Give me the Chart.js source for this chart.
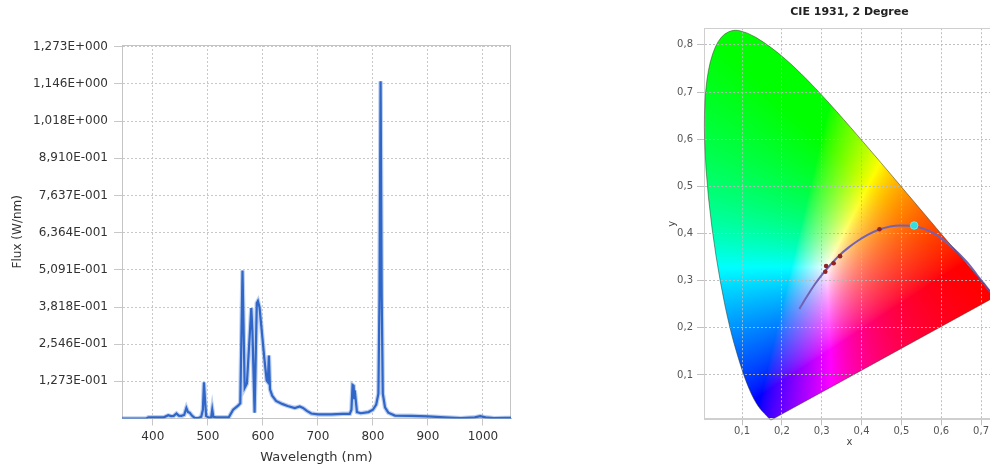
<!DOCTYPE html>
<html>
<head>
<meta charset="utf-8">
<script src="https://cdn.jsdelivr.net/npm/chart.js@4.4.1/dist/chart.umd.min.js"></script>
<style>
  html, body { margin: 0; padding: 0; background: #fff; overflow: hidden; }
  body { width: 990px; height: 468px; position: relative; }
  #spectrumChart { position: absolute; left: 0; top: 0; }
  #cieChart { position: absolute; left: 640px; top: 0; }
</style>
</head>
<body>
<canvas id="spectrumChart" width="560" height="468"></canvas>
<canvas id="cieChart" width="370" height="468"></canvas>
<script>
// Emission spectrum
const wavelengths = [344, 388, 392, 420, 428, 433, 438, 443, 447, 452, 457, 461, 464, 467, 471, 476, 482, 488, 491, 493,
  495, 497, 502, 506, 508, 510, 515, 538, 546, 555, 559, 563, 567, 571, 579, 581, 585, 589, 591, 594,
  599, 603, 607, 609, 611, 613, 617, 624, 635, 645, 658, 667, 673, 680, 688, 700, 725, 745, 758, 761,
  763, 765, 766, 767, 769, 771, 778, 792, 800, 806, 810, 812, 814, 816, 818, 822, 828, 840, 870, 900,
  930, 960, 985, 995, 1005, 1020, 1040, 1051];
const flux = [0.000, 0.000, 0.004, 0.004, 0.011, 0.008, 0.009, 0.017, 0.010, 0.009, 0.012, 0.036, 0.022, 0.020, 0.010, 0.002, 0.001, 0.006, 0.030, 0.124,
  0.060, 0.008, 0.003, 0.004, 0.031, 0.006, 0.004, 0.004, 0.030, 0.044, 0.052, 0.507, 0.105, 0.120, 0.378, 0.300, 0.020, 0.395, 0.402, 0.380,
  0.280, 0.200, 0.130, 0.125, 0.216, 0.100, 0.078, 0.060, 0.050, 0.043, 0.036, 0.041, 0.036, 0.026, 0.017, 0.014, 0.014, 0.016, 0.016, 0.030,
  0.115, 0.112, 0.070, 0.096, 0.060, 0.022, 0.018, 0.022, 0.030, 0.048, 0.085, 0.420, 1.155, 0.420, 0.085, 0.038, 0.020, 0.010, 0.009, 0.007,
  0.004, 0.001, 0.004, 0.008, 0.004, 0.001, 0.002, 0.002];
const fluxTicks = [0.1273, 0.2546, 0.3818, 0.5091, 0.6364, 0.7637, 0.8910, 1.018, 1.146, 1.273];
const wavelengthTicks = [400, 500, 600, 700, 800, 900, 1000];

// CIE 1931 2° spectral locus, 380–700 nm
const locusX = [0.1741, 0.1740, 0.1738, 0.1736, 0.1733, 0.1730, 0.1726, 0.1721, 0.1714, 0.1703, 0.1689, 0.1669, 0.1644, 0.1611,
  0.1566, 0.1510, 0.1440, 0.1355, 0.1241, 0.1096, 0.0913, 0.0687, 0.0454, 0.0235, 0.0082, 0.0039, 0.0139, 0.0389,
  0.0743, 0.1142, 0.1547, 0.1929, 0.2296, 0.2658, 0.3016, 0.3373, 0.3731, 0.4087, 0.4441, 0.4788, 0.5125, 0.5448,
  0.5752, 0.6029, 0.6270, 0.6482, 0.6658, 0.6801, 0.6915, 0.7006, 0.7079, 0.7140, 0.7190, 0.7230, 0.7260, 0.7283,
  0.7300, 0.7311, 0.7320, 0.7334, 0.7347];
const locusY = [0.0050, 0.0050, 0.0049, 0.0049, 0.0048, 0.0048, 0.0048, 0.0048, 0.0051, 0.0058, 0.0069, 0.0086, 0.0109, 0.0138,
  0.0177, 0.0227, 0.0297, 0.0399, 0.0578, 0.0868, 0.1327, 0.2007, 0.2950, 0.4127, 0.5384, 0.6548, 0.7502, 0.8120,
  0.8338, 0.8262, 0.8059, 0.7816, 0.7543, 0.7243, 0.6923, 0.6589, 0.6245, 0.5896, 0.5547, 0.5202, 0.4866, 0.4544,
  0.4242, 0.3965, 0.3725, 0.3514, 0.3340, 0.3197, 0.3083, 0.2993, 0.2920, 0.2859, 0.2809, 0.2770, 0.2740, 0.2717,
  0.2700, 0.2689, 0.2680, 0.2666, 0.2653];

// Planckian locus, standard illuminants and the measured source
const planckX = [0.244, 0.258, 0.270, 0.284, 0.300, 0.318, 0.346, 0.367, 0.388, 0.415, 0.443, 0.472, 0.497, 0.531,
  0.553, 0.573, 0.590, 0.606, 0.632, 0.656, 0.674, 0.690, 0.707, 0.723, 0.735];
const planckY = [0.240, 0.260, 0.276, 0.294, 0.312, 0.330, 0.355, 0.370, 0.383, 0.397, 0.408, 0.415, 0.417, 0.416,
  0.411, 0.404, 0.396, 0.386, 0.367, 0.347, 0.330, 0.312, 0.294, 0.277, 0.265];
const illuminantX = [0.309, 0.311, 0.330, 0.346, 0.445];
const illuminantY = [0.319, 0.331, 0.337, 0.352, 0.409];
const sourceX = [0.532];
const sourceY = [0.417];
const cieTicksX = [0.1, 0.2, 0.3, 0.4, 0.5, 0.6, 0.7];
const cieTicksY = [0.1, 0.2, 0.3, 0.4, 0.5, 0.6, 0.7, 0.8];

const FONT = "'DejaVu Sans', Verdana, sans-serif";
const toPoints = (xs, ys) => xs.map((x, i) => ({ x: x, y: ys[i] }));

// 1,273E+000 style labels
function sciLabel(v) {
    const parts = v.toExponential(3).split('e');
    const exp = parseInt(parts[1], 10);
    return parts[0].replace('.', ',') + 'E' + (exp < 0 ? '-' : '+') + String(Math.abs(exp)).padStart(3, '0');
}

// light frame round the plot area
const frame = {
    id: 'frame',
    beforeDatasetsDraw(chart, args, opts) {
        const a = chart.chartArea, ctx = chart.ctx;
        ctx.save();
        ctx.strokeStyle = opts.color;
        ctx.lineWidth = 1;
        ctx.strokeRect(Math.round(a.left) + 0.5, Math.round(a.top) + 0.5,
            Math.round(a.right - a.left) - 1, Math.round(a.bottom - a.top) - 1);
        ctx.restore();
    }
};

// xy chromaticity -> display colour (clip, normalise to brightest channel)
function xyToRgb(x, y) {
    const X = x / y, Z = (1 - x - y) / y;
    const c = [
        3.2406 * X - 1.5372 - 0.4986 * Z,
        -0.9689 * X + 1.8758 + 0.0415 * Z,
        0.0557 * X - 0.2040 + 1.0570 * Z
    ].map(v => Math.max(v, 0));
    const m = Math.max(c[0], c[1], c[2]) || 1;
    // blue a little weaker so the green/teal side stays green
    const b = Math.pow(c[2] / m, 1.4);
    return [c[0] / m, c[1] / m, b].map(v => Math.round(Math.pow(v, 0.7) * 255));
}

// smoothed outline of the horseshoe
function locusPath(ctx, sx, sy) {
    const pts = locusX.map((vx, i) => [sx.getPixelForValue(vx), sy.getPixelForValue(locusY[i])]);
    const n = pts.length;
    const mid = (a, b) => [(a[0] + b[0]) / 2, (a[1] + b[1]) / 2];
    ctx.beginPath();
    ctx.moveTo(pts[0][0], pts[0][1]);
    for (let i = 1; i < n - 1; i++) {
        const m = mid(pts[i], pts[i + 1]);
        ctx.quadraticCurveTo(pts[i][0], pts[i][1], m[0], m[1]);
    }
    ctx.lineTo(pts[n - 1][0], pts[n - 1][1]);
    ctx.closePath();
}

// paint the gamut inside the spectral locus
const cieFill = {
    id: 'cieFill',
    beforeDraw(chart) {
        const { ctx, chartArea: a, scales } = chart;
        const w = Math.ceil(a.right - a.left), h = Math.ceil(a.bottom - a.top);
        const off = document.createElement('canvas');
        off.width = w;
        off.height = h;
        const octx = off.getContext('2d');
        const img = octx.createImageData(w, h);
        for (let j = 0; j < h; j++) {
            const cy = scales.y.getValueForPixel(a.top + j + 0.5);
            for (let i = 0; i < w; i++) {
                const cx = scales.x.getValueForPixel(a.left + i + 0.5);
                const rgb = xyToRgb(cx, Math.max(cy, 0.001));
                const k = (j * w + i) * 4;
                img.data[k] = rgb[0];
                img.data[k + 1] = rgb[1];
                img.data[k + 2] = rgb[2];
                img.data[k + 3] = 255;
            }
        }
        octx.putImageData(img, 0, 0);
        ctx.save();
        locusPath(ctx, scales.x, scales.y);
        ctx.clip();
        ctx.drawImage(off, a.left, a.top);
        ctx.restore();
    },
    afterDatasetsDraw(chart) {
        const { ctx, scales } = chart;
        ctx.save();
        locusPath(ctx, scales.x, scales.y);
        ctx.strokeStyle = 'rgba(50,50,30,0.5)';
        ctx.lineWidth = 1;
        ctx.stroke();
        ctx.restore();
    }
};

// Line chart: flux over wavelength
const spectrumCtx = document.getElementById('spectrumChart').getContext('2d');
const spectrumChart = new Chart(spectrumCtx, {
    type: 'line',
    data: {
        datasets: [{
            label: 'Flux',
            data: toPoints(wavelengths, flux),
            borderColor: '#2f66c8',
            borderWidth: 2.2,
            pointRadius: 0,
            tension: 0,
            order: 1
        }, {
            label: 'halo',
            data: toPoints(wavelengths, flux),
            borderColor: 'rgba(110,150,220,0.45)',
            borderWidth: 4.5,
            pointRadius: 0,
            tension: 0,
            order: 2
        }]
    },
    options: {
        responsive: false,
        animation: false,
        layout: { padding: { top: 45, right: 49, bottom: 0, left: 0 } },
        plugins: {
            legend: { display: false },
            tooltip: { enabled: false },
            frame: { color: '#c4c4c4' }
        },
        scales: {
            x: {
                type: 'linear',
                min: 344,
                max: 1051,
                afterBuildTicks: (scale) => { scale.ticks = wavelengthTicks.map(v => ({ value: v })); },
                afterFit: (scale) => { scale.height = 49.5; },
                grid: { color: '#c8c8c8', tickLength: 7 },
                border: { color: '#bdbdbd', dash: [2, 2] },
                ticks: { font: { family: FONT, size: 12 }, color: '#333', padding: 4, maxRotation: 0, callback: (v) => String(v) },
                title: { display: true, text: 'Wavelength (nm)', font: { family: FONT, size: 13 }, color: '#333', padding: { top: 0, bottom: 3 } }
            },
            y: {
                min: 0,
                max: 1.279,
                afterBuildTicks: (scale) => { scale.ticks = fluxTicks.map(v => ({ value: v })); },
                afterFit: (scale) => { scale.width = 122; },
                grid: { color: '#c8c8c8', tickLength: 8 },
                border: { color: '#c4c4c4', dash: [2, 2] },
                ticks: { font: { family: FONT, size: 12 }, color: '#333', padding: 6, callback: (v) => sciLabel(v) },
                title: { display: true, text: 'Flux (W/nm)', font: { family: FONT, size: 12 }, color: '#333', padding: { top: 11, bottom: 0 } }
            }
        }
    },
    plugins: [frame]
});

// Chromaticity diagram
const cieCtx = document.getElementById('cieChart').getContext('2d');
const cieChart = new Chart(cieCtx, {
    type: 'scatter',
    data: {
        datasets: [{
            label: 'Planckian locus',
            data: toPoints(planckX, planckY),
            showLine: true,
            borderColor: '#7262b4',
            borderWidth: 2,
            pointRadius: 0,
            cubicInterpolationMode: 'monotone',
            order: 3
        }, {
            label: 'Illuminants',
            data: toPoints(illuminantX, illuminantY),
            backgroundColor: '#8e2424',
            borderWidth: 0,
            pointRadius: 2.3,
            order: 2
        }, {
            label: 'Source',
            data: toPoints(sourceX, sourceY),
            backgroundColor: '#35dede',
            borderColor: 'rgba(120,240,240,0.8)',
            borderWidth: 1,
            pointRadius: 3.8,
            order: 1
        }]
    },
    options: {
        responsive: false,
        animation: false,
        layout: { padding: { top: 0, right: 15, bottom: 0, left: 0 } },
        plugins: {
            legend: { display: false },
            tooltip: { enabled: false },
            frame: { color: '#cfcfcf' },
            title: {
                display: true,
                text: 'CIE 1931, 2 Degree',
                fullSize: false,
                font: { family: FONT, size: 11, weight: 'bold' },
                color: '#222',
                padding: { top: 6, bottom: 9 }
            }
        },
        scales: {
            x: {
                type: 'linear',
                min: 0.0045,
                max: 0.735,
                afterBuildTicks: (scale) => { scale.ticks = cieTicksX.map(v => ({ value: v })); },
                afterFit: (scale) => { scale.height = 48.7; },
                grid: { color: 'rgba(185,185,185,0.9)', tickLength: 6 },
                border: { color: '#cfcfcf', dash: [2, 2] },
                ticks: { font: { family: FONT, size: 10 }, color: '#555', padding: 0, maxRotation: 0, callback: (v) => v.toFixed(1).replace('.', ',') },
                title: { display: true, text: 'x', font: { family: FONT, size: 10 }, color: '#444', padding: { top: 0, bottom: 20 } }
            },
            y: {
                min: 0.006,
                max: 0.8354,
                afterBuildTicks: (scale) => { scale.ticks = cieTicksY.map(v => ({ value: v })); },
                afterFit: (scale) => { scale.width = 64; },
                grid: { color: 'rgba(185,185,185,0.9)', tickLength: 7 },
                border: { color: '#cfcfcf', dash: [2, 2] },
                ticks: { font: { family: FONT, size: 10 }, color: '#555', padding: 4, callback: (v) => v.toFixed(1).replace('.', ',') },
                title: { display: true, text: 'y', font: { family: FONT, size: 10 }, color: '#444', padding: { top: 26, bottom: 0 } }
            }
        }
    },
    plugins: [cieFill, frame]
});
</script>
</body>
</html>
